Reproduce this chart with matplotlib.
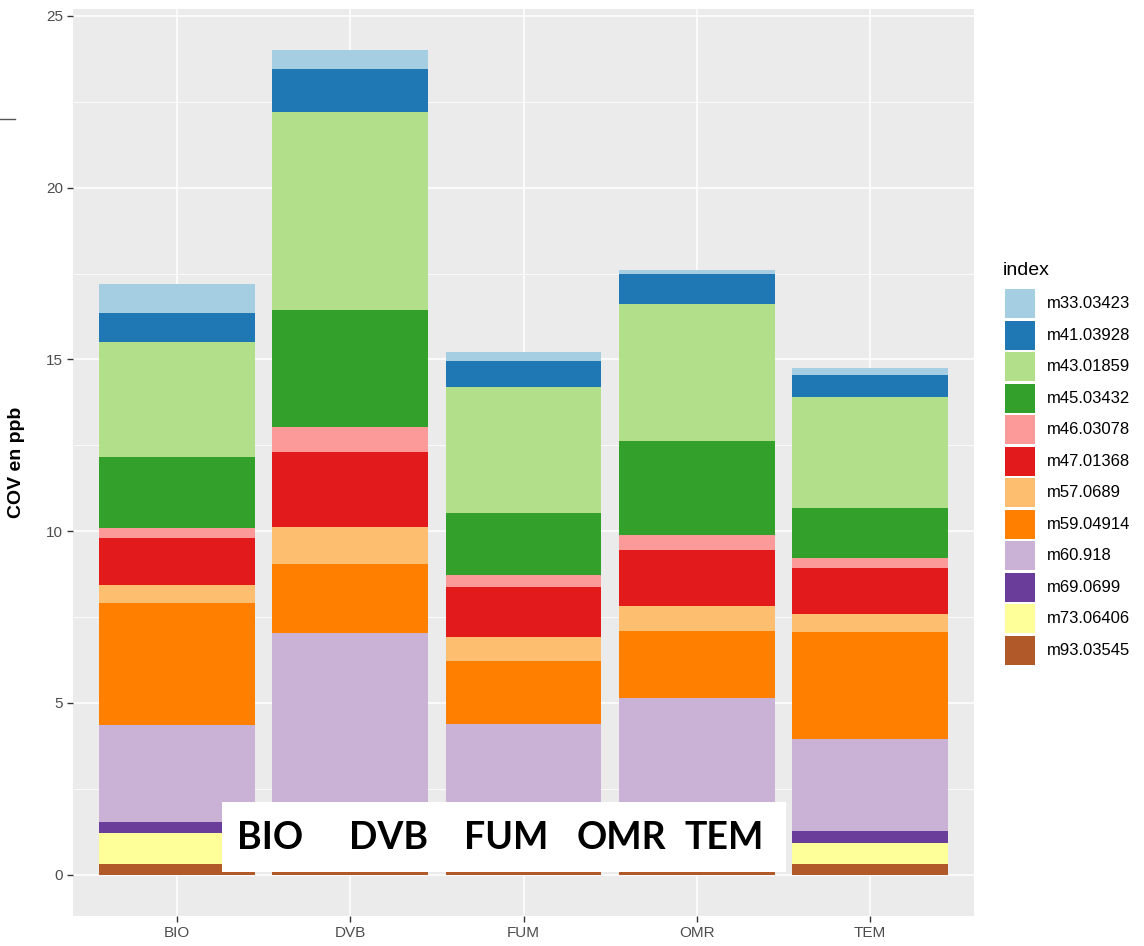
import matplotlib
matplotlib.use("Agg")
import matplotlib.pyplot as plt
from matplotlib.patches import Rectangle
from matplotlib.lines import Line2D

plt.rcParams['font.family'] = ['Liberation Sans', 'DejaVu Sans']

# categories (x axis) and stacked compounds, bottom of stack first
sites = ['BIO', 'DVB', 'FUM', 'OMR', 'TEM']
compounds = ['m93.03545', 'm73.06406', 'm69.0699', 'm60.918', 'm59.04914',
             'm57.0689', 'm47.01368', 'm46.03078', 'm45.03432', 'm43.01859',
             'm41.03928', 'm33.03423']
colors = ['#B15928', '#FFFF99', '#6A3D9A', '#CAB2D6', '#FF7F00', '#FDBF6F',
          '#E31A1C', '#FB9A99', '#33A02C', '#B2DF8A', '#1F78B4', '#A6CEE3']

# COV values in ppb, one list per compound (order = sites)
m93_03545 = [0.31, 0.08, 0.08, 0.08, 0.31]
m73_06406 = [0.90, 0.00, 0.00, 0.00, 0.62]
m69_0699  = [0.32, 0.00, 0.00, 0.00, 0.33]
m60_918   = [2.82, 6.95, 4.31, 5.07, 2.70]
m59_04914 = [3.55, 2.02, 1.84, 1.95, 3.10]
m57_0689  = [0.52, 1.07, 0.68, 0.72, 0.53]
m47_01368 = [1.39, 2.19, 1.46, 1.63, 1.34]
m46_03078 = [0.27, 0.72, 0.36, 0.43, 0.29]
m45_03432 = [2.08, 3.42, 1.80, 2.75, 1.45]
m43_01859 = [3.34, 5.76, 3.68, 3.98, 3.23]
m41_03928 = [0.84, 1.25, 0.73, 0.87, 0.64]
m33_03423 = [0.86, 0.55, 0.28, 0.13, 0.20]

series = [m93_03545, m73_06406, m69_0699, m60_918, m59_04914, m57_0689,
          m47_01368, m46_03078, m45_03432, m43_01859, m41_03928, m33_03423]

W, H = 1144, 946
fig = plt.figure(figsize=(W / 100, H / 100), dpi=100)
fig.patch.set_facecolor('white')

# panel in pixel layout
left, right, top, bottom = 73, 974, 9, 916
ax = fig.add_axes([left / W, 1 - bottom / H, (right - left) / W, (bottom - top) / H])
ax.set_facecolor('#EBEBEB')

x = list(range(len(sites)))
base = [0.0] * len(sites)
for vals, col in zip(series, colors):
    ax.bar(x, vals, width=0.9, bottom=base, color=col, linewidth=0, zorder=3)
    base = [b + v for b, v in zip(base, vals)]

ax.set_xlim(-0.6, len(sites) - 0.4)
ax.set_ylim(-1.2, 25.2)
ax.set_xticks(x)
ax.set_xticklabels(sites)
ax.set_yticks([0, 5, 10, 15, 20, 25])
ax.set_yticks([2.5, 7.5, 12.5, 17.5, 22.5], minor=True)
ax.grid(True, which='major', color='white', linewidth=1.1, zorder=1)
ax.grid(True, which='minor', axis='y', color='white', linewidth=0.55, zorder=1)
ax.set_axisbelow(True)
for s in ax.spines.values():
    s.set_visible(False)
ax.tick_params(axis='both', which='major', length=4, width=1, color='#333333',
               labelsize=11, labelcolor='#4D4D4D', pad=3)
ax.tick_params(axis='y', which='minor', length=0)
ax.set_ylabel('COV en ppb', fontsize=14, fontweight='bold', labelpad=10)
ax.yaxis.set_label_coords(-(left - 25) / (right - left), 0.5)

# legend drawn in pixel space on an overlay axes
lax = fig.add_axes([0, 0, 1, 1], facecolor='none')
lax.set_xlim(0, W)
lax.set_ylim(H, 0)
lax.axis('off')
lax.text(1003, 270, 'index', fontsize=14, va='center', ha='left', color='black')
key_top, step = 289, 31.5
for i, (name, col) in enumerate(zip(compounds[::-1], colors[::-1])):
    y0 = key_top + i * step
    lax.add_patch(Rectangle((1005, y0), 30, 29, facecolor=col, edgecolor='none'))
    lax.text(1047, y0 + 14.5, name, fontsize=12, va='center', ha='left', color='black')

# white label box over the bottom of the bars
lax.add_patch(Rectangle((222, 802), 564, 70, facecolor='white', edgecolor='none', zorder=5))
word_x = [270, 389, 506, 621, 724]
for wx, s in zip(word_x, sites):
    lax.text(wx, 838, s, fontsize=27, fontweight='bold', family=['Lato', 'DejaVu Sans'],
             ha='center', va='center', color='black', zorder=6)

# small stray line at top left
fig.add_artist(Line2D([0, 15 / W], [1 - 119 / H, 1 - 119 / H], color='#555555', linewidth=1))

fig.savefig('out.png', dpi=100)
